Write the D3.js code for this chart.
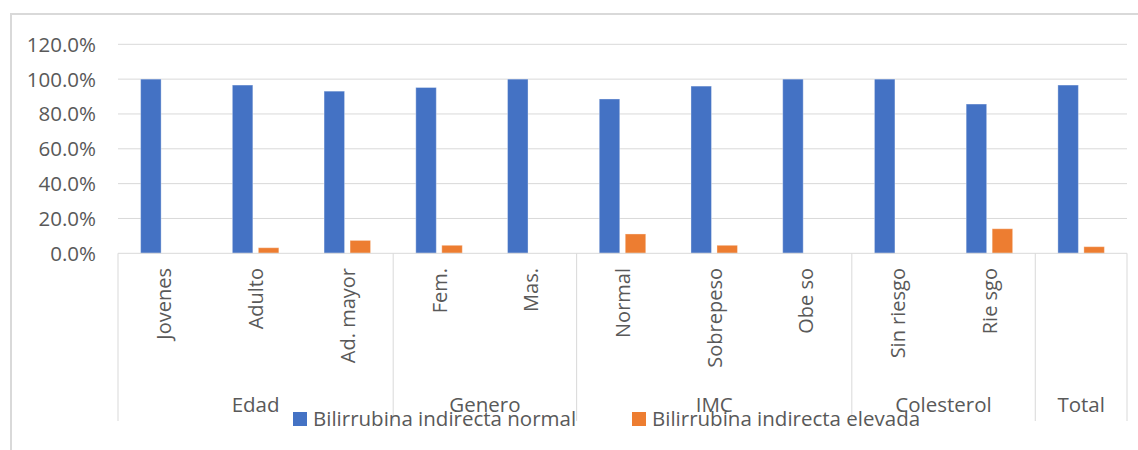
<!DOCTYPE html>
<html><head><meta charset="utf-8">
<script src="https://cdn.jsdelivr.net/npm/d3@7"></script>
<style>body{margin:0;background:#fff}svg{display:block}text{font-family:"Open Sans","Noto Sans",sans-serif;fill:#595959}</style>
</head><body>
<svg id="c" width="1138" height="450"></svg>
<script>
const categories = ["Jovenes","Adulto","Ad. mayor","Fem.","Mas.","Normal","Sobrepeso","Obe so","Sin riesgo","Rie sgo","Total"];
const categoryLabels = ["Jovenes","Adulto","Ad. mayor","Fem.","Mas.","Normal","Sobrepeso","Obe so","Sin riesgo","Rie sgo",""];
const groups = ["Edad","Genero","IMC","Colesterol","Total"];
const groupSizes = [3,2,3,2,1];
const normalValues = [100,96.6,93.1,95.2,100,88.6,96.0,100,100,85.7,96.6];
const elevadaValues = [0,3.2,7.4,4.6,0,11.1,4.6,0,0,14.1,3.8];
const seriesNames = ["Bilirrubina indirecta normal","Bilirrubina indirecta elevada"];
const yTicks = [0,20,40,60,80,100,120];
const colors = ["#4472C4","#ED7D31"];

const svg = d3.select("#c");
const L=118, R=1127, T=44.3, B=253.3;
const x = d3.scaleBand().domain(categories).range([L,R]);
const y = d3.scaleLinear().domain([0,120]).range([B,T]);

// outer frame (left & top)
svg.append("line").attr("x1",11).attr("x2",11).attr("y1",13).attr("y2",450).attr("stroke","#d9d9d9").attr("stroke-width",2);
svg.append("line").attr("x1",10).attr("x2",1138).attr("y1",14).attr("y2",14).attr("stroke","#d9d9d9").attr("stroke-width",2);

// grid
svg.append("g").selectAll("line").data(yTicks.filter(d=>d>0)).join("line")
  .attr("x1",L).attr("x2",R).attr("y1",d=>y(d)).attr("y2",d=>y(d))
  .attr("stroke","#d9d9d9").attr("stroke-width",1);
svg.append("g").selectAll("text").data(yTicks).join("text")
  .attr("x",96).attr("y",d=>y(d)).attr("dy","0.36em").attr("text-anchor","end")
  .attr("font-size",20.5).text(d=>d.toFixed(1)+"%");

// bars
const bw = 20.5, gap = 5.5;
const series = [normalValues, elevadaValues];
series.forEach((vals,si)=>{
  svg.append("g").selectAll("rect").data(vals.map((v,i)=>({c:categories[i],v}))).join("rect")
    .attr("x",d=>x(d.c)+x.bandwidth()/2 + (si===0 ? -(bw+gap/2) : gap/2))
    .attr("width",bw)
    .attr("y",d=>y(d.v)).attr("height",d=>B-y(d.v))
    .attr("fill",colors[si]).attr("stroke","rgba(255,255,255,0.35)").attr("stroke-width",1)
    .attr("display",d=>d.v>0?null:"none");
});

// baseline
svg.append("line").attr("x1",L).attr("x2",R).attr("y1",B).attr("y2",B).attr("stroke","#d9d9d9");

// category labels
svg.append("g").selectAll("text").data(categories).join("text")
  .attr("transform",d=>`translate(${x(d)+x.bandwidth()/2+7.5},268) rotate(-90)`)
  .attr("text-anchor","end").attr("font-size",20).text((d,i)=>categoryLabels[i]);

// group separators and labels
let idx=0; const bounds=[0];
groupSizes.forEach(s=>{idx+=s;bounds.push(idx);});
svg.append("g").selectAll("line").data(bounds).join("line")
  .attr("x1",d=>d<categories.length? x(categories[d]) : R)
  .attr("x2",d=>d<categories.length? x(categories[d]) : R)
  .attr("y1",B).attr("y2",421).attr("stroke","#d9d9d9");
svg.append("g").selectAll("text").data(groups).join("text")
  .attr("x",(g,i)=>{const a=bounds[i], b=bounds[i+1]; const xa=x(categories[a]); const xb=b<categories.length?x(categories[b]):R; return (xa+xb)/2;})
  .attr("y",412).attr("text-anchor","middle").attr("font-size",20.5).text(d=>d);

// legend
const legX=[293,632];
seriesNames.forEach((n,i)=>{
  svg.append("rect").attr("x",legX[i]).attr("y",412).attr("width",14).attr("height",14).attr("fill",colors[i]);
  svg.append("text").attr("x",legX[i]+20).attr("y",426).attr("font-size",20.5).text(n);
});
</script>
</body></html>
